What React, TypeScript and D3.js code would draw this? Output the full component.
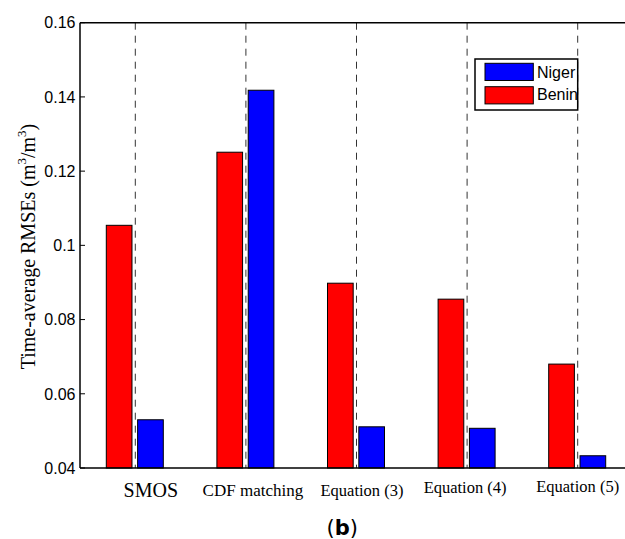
import React from "react";
import * as d3 from "d3";

const categories = ["SMOS", "CDF matching", "Equation (3)", "Equation (4)", "Equation (5)"];
const seriesNames = ["Benin", "Niger"];
const beninValues = [0.1054, 0.1251, 0.0898, 0.0855, 0.068];
const nigerValues = [0.053, 0.1418, 0.0511, 0.0507, 0.0433];
const yTicks = [0.04, 0.06, 0.08, 0.1, 0.12, 0.14, 0.16];
const legendOrder = ["Niger", "Benin"];

const colors: Record<string, string> = { Benin: "#FF0000", Niger: "#0000FF" };

// layout tweaks for category label placement (px offsets / baselines / sizes)
const labelDx = [15.5, 7, 5.5, -2, 0];
const labelY = [496.5, 495.5, 495.5, 493, 491.5];
const labelSize = [20, 17, 16.5, 16.5, 16.5];

export default function App() {
  const W = 625, H = 539;
  const left = 80, top = 22.7, bottom = 468;
  const step = 110.6;
  const x = d3.scaleBand<string>().domain(categories).range([left, left + step * categories.length]).padding(0);
  const xSub = d3.scaleBand<string>().domain(seriesNames).range([-29, 28]).paddingInner(0.18);
  const y = d3.scaleLinear().domain([0.04, 0.16]).range([bottom, top]);

  const data = categories.map((c, i) => ({ c, Benin: beninValues[i], Niger: nigerValues[i] }));

  return (
    <svg width={W} height={H} style={{ position: "absolute", left: 0, top: 0, background: "#fff" }}>
      <rect x={0} y={0} width={W} height={H} fill="#fff" />
      {/* dashed separators */}
      {categories.map((c) => {
        const cx = x(c)! + x.bandwidth() / 2;
        return (
          <line key={"d" + c} x1={cx} x2={cx} y1={top} y2={bottom} stroke="#333" strokeWidth={1} strokeDasharray="7,6" />
        );
      })}
      {/* bars */}
      {data.map((d) =>
        seriesNames.map((s) => {
          const cx = x(d.c)! + x.bandwidth() / 2;
          const v = (d as any)[s] as number;
          return (
            <rect
              key={d.c + s}
              x={cx + xSub(s)!}
              y={y(v)}
              width={xSub.bandwidth()}
              height={y(0.04) - y(v)}
              fill={colors[s]}
              stroke="#000"
              strokeWidth={1}
            />
          );
        })
      )}
      {/* axes */}
      <line x1={left} x2={W} y1={top} y2={top} stroke="#000" strokeWidth={1.5} />
      <line x1={left} x2={W} y1={bottom} y2={bottom} stroke="#000" strokeWidth={1.5} />
      <line x1={left} x2={left} y1={top} y2={bottom} stroke="#000" strokeWidth={1.5} />
      {yTicks.map((t) => (
        <g key={"t" + t}>
          <line x1={left} x2={left + 5} y1={y(t)} y2={y(t)} stroke="#000" strokeWidth={1} />
          <text
            x={left - 4.5}
            y={y(t)}
            dy="0.36em"
            textAnchor="end"
            fontFamily="Liberation Sans, Arial, sans-serif"
            fontSize={16}
            fill="#000"
          >
            {d3.format("")(t)}
          </text>
        </g>
      ))}
      {/* category labels */}
      {categories.map((c, i) => (
        <text
          key={"l" + c}
          x={x(c)! + x.bandwidth() / 2 + labelDx[i]}
          y={labelY[i]}
          textAnchor="middle"
          fontFamily="Liberation Serif, Times New Roman, serif"
          fontSize={labelSize[i]}
          fill="#000"
        >
          {c}
        </text>
      ))}
      {/* y label */}
      <text
        transform="translate(34.5,246.5) rotate(-90)"
        textAnchor="middle"
        fontFamily="Liberation Serif, Times New Roman, serif"
        fontSize={20}
        fill="#000"
      >
        Time-average RMSEs (m
        <tspan fontSize={13} dy={-9}>3</tspan>
        <tspan dy={9}>/m</tspan>
        <tspan fontSize={13} dy={-9}>3</tspan>
        <tspan dy={9}>)</tspan>
      </text>
      {/* legend */}
      <g>
        <rect x={475} y={59} width={102.7} height={51} fill="#fff" stroke="#000" strokeWidth={1.5} />
        {legendOrder.map((s, i) => (
          <g key={"lg" + s}>
            <rect x={485} y={63.3 + i * 23.4} width={48.3} height={17.2} fill={colors[s]} stroke="#000" strokeWidth={1} />
            <text
              x={537}
              y={77.5 + i * 22.7}
              fontFamily="Liberation Sans, Arial, sans-serif"
              fontSize={16}
              fill="#000"
            >
              {s}
            </text>
          </g>
        ))}
      </g>
      {/* panel label */}
      <text x={342.3} y={535} textAnchor="middle" fontFamily="DejaVu Sans, sans-serif" fontSize={21} fill="#000">
        (<tspan fontWeight="bold">b</tspan>)
      </text>
    </svg>
  );
}
